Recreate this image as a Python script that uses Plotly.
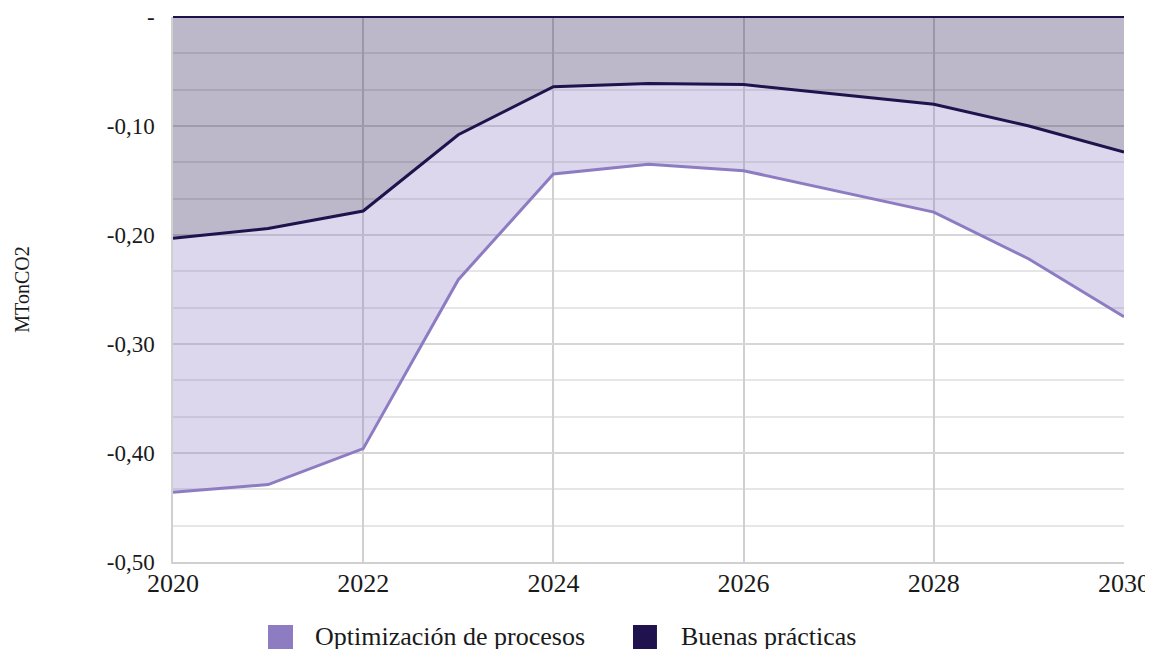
import plotly.graph_objects as go

years = [2020, 2021, 2022, 2023, 2024, 2025, 2026, 2027, 2028, 2029, 2030]
buenas_practicas = [-0.203, -0.194, -0.178, -0.108, -0.064, -0.061, -0.062, -0.071, -0.080, -0.100, -0.124]
optimizacion_procesos = [-0.233, -0.235, -0.218, -0.133, -0.080, -0.074, -0.079, -0.089, -0.099, -0.122, -0.151]

y_tickvals = [0, -0.1, -0.2, -0.3, -0.4, -0.5]
y_ticktext = ["-", "-0,10", "-0,20", "-0,30", "-0,40", "-0,50"]
x_tickvals = [2020, 2022, 2024, 2026, 2028, 2030]

name_opt = "Optimización de procesos"
name_bp = "Buenas prácticas"
col_opt = "#8e7cc3"
col_bp = "#20124d"

FONT = "Liberation Serif"
TXT = "#1a1a1a"

fig = go.Figure()
fig.add_trace(go.Scatter(
    x=years, y=buenas_practicas, name=name_bp, stackgroup="one", mode="lines",
    line=dict(color=col_bp, width=3), fillcolor="rgba(32,18,77,0.3)",
    showlegend=False))
fig.add_trace(go.Scatter(
    x=years, y=optimizacion_procesos, name=name_opt, stackgroup="one", mode="lines",
    line=dict(color=col_opt, width=3), fillcolor="rgba(142,124,195,0.3)",
    showlegend=False))

# manual legend (paper coordinates)
legend_items = [
    (name_opt, col_opt, 0.0999, 0.1262, 0.1472),
    (name_bp, col_bp, 0.4837, 0.5089, 0.5321),
]
for label, col, sx0, sx1, tx in legend_items:
    fig.add_shape(type="rect", xref="paper", yref="paper", x0=sx0, x1=sx1,
                  y0=-0.1596, y1=-0.1156, fillcolor=col, line=dict(width=0))
    fig.add_annotation(xref="paper", yref="paper", x=tx, y=-0.1376, text=label,
                       showarrow=False, xanchor="left", yanchor="middle",
                       font=dict(family=FONT, size=26, color=TXT))

fig.update_layout(
    width=1153, height=649,
    margin=dict(l=165, r=37, t=9, b=95, autoexpand=False),
    paper_bgcolor="white", plot_bgcolor="white",
    font=dict(family=FONT, size=20, color=TXT),
    showlegend=False,
    xaxis=dict(range=[2020, 2030], tickvals=x_tickvals, showgrid=True,
               gridcolor="#d0d0d0", gridwidth=1.5, showline=True, linecolor="#d0d0d0",
               linewidth=1.5, zeroline=False, ticks="", ticklabelstandoff=-3,
               ticklabeloverflow="allow",
               tickfont=dict(family=FONT, size=26, color=TXT)),
    yaxis=dict(range=[-0.5, 0], tickvals=y_tickvals, ticktext=y_ticktext,
               showgrid=True, gridcolor="#d6d6d6", gridwidth=1.5,
               minor=dict(tick0=0, dtick=0.1/3, showgrid=True, gridcolor="#e6e6e6", gridwidth=1.5),
               showline=True, linecolor="#d0d0d0", linewidth=1.5,
               zeroline=True, zerolinecolor=col_bp, zerolinewidth=2,
               ticks="", ticklabelstandoff=12, ticklabeloverflow="allow",
               title=dict(text="MTonCO2", standoff=72, font=dict(family=FONT, size=20, color=TXT)),
               tickfont=dict(family=FONT, size=23, color=TXT)),
)
fig.write_html("out.html")
